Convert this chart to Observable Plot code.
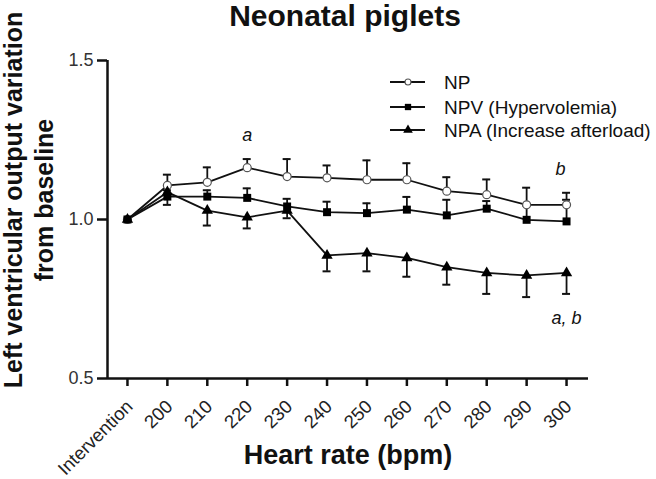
<!DOCTYPE html>
<html><head><meta charset="utf-8">
<script src="https://cdn.jsdelivr.net/npm/d3@7"></script>
<script src="https://cdn.jsdelivr.net/npm/@observablehq/plot@0.6"></script>
<style>
body{margin:0;background:#fff;}
#chart{width:656px;height:479px;}
svg{font-family:"Liberation Sans",Arial,sans-serif;}
</style></head>
<body><div id="chart"></div>
<script>
const labels = ["Intervention","200","210","220","230","240","250","260","270","280","290","300"];
const npVals  = [1.0, 1.107, 1.117, 1.163, 1.135, 1.131, 1.125, 1.125, 1.089, 1.078, 1.046, 1.046];
const npSE    = [0, 0.034, 0.047, 0.027, 0.055, 0.039, 0.061, 0.052, 0.044, 0.048, 0.054, 0.038];
const npvVals = [1.0, 1.072, 1.072, 1.068, 1.041, 1.023, 1.020, 1.031, 1.013, 1.034, 0.999, 0.994];
const npvSE   = [0, 0.02, 0.02, 0.03, 0.024, 0.033, 0.031, 0.04, 0.049, 0.024, 0.045, 0.068];
const npaVals = [1.0, 1.086, 1.028, 1.007, 1.028, 0.887, 0.894, 0.879, 0.850, 0.832, 0.824, 0.832];
const npaSE   = [0, 0.04, 0.047, 0.035, 0.024, 0.05, 0.057, 0.059, 0.055, 0.066, 0.068, 0.066];
const seriesNames = ["NP","NPV (Hypervolemia)","NPA (Increase afterload)"];
const yTicks = [0.5, 1.0, 1.5];
const annotations = [
  {x: 3, y: 1.266, text: "a"},
  {x: 10.85, y: 1.157, text: "b"},
  {x: 11.0, y: 0.689, text: "a, b"}
];

const build = (vals, se, dir, key) => vals.map((v, i) => ({i, v, lo: v, hi: v + dir * se[i], se: se[i], key}));
const np = build(npVals, npSE, 1, "NP");
const npv = build(npvVals, npvSE, 1, "NPV");
const npa = build(npaVals, npaSE, -1, "NPA");
const all = [...np, ...npv, ...npa];
const withErr = all.filter(d => d.se > 0);
const capW = 0.1;
const lineColor = "#111";
const idx = d3.range(labels.length);

const plot = Plot.plot({
  width: 656, height: 479,
  marginLeft: 107, marginRight: 68, marginTop: 60, marginBottom: 101,
  style: {fontFamily: '"Liberation Sans",Arial,sans-serif', background: "#fff"},
  x: {type: "linear", domain: [-0.5, 11.55]},
  y: {domain: [0.5, 1.5]},
  marks: [
    Plot.axisX({ticks: idx, tickFormat: () => "", tickSize: 8, stroke: lineColor, strokeWidth: 2.5, label: null}),
    Plot.text(idx, {x: d => d, y: () => yTicks[0], text: d => labels[d], rotate: -45, textAnchor: "end",
      lineAnchor: "top", dx: -3, dy: 20, fontSize: 18.5, fill: "#222"}),
    Plot.axisY({ticks: yTicks, tickFormat: d3.format(".1f"), tickSize: 10, fontSize: 18, fill: "#333",
      stroke: lineColor, strokeWidth: 2.5, tickPadding: 4, label: null}),
    Plot.ruleY([0.5], {stroke: lineColor, strokeWidth: 2.5}),
    Plot.ruleX([-0.5], {x: d => d, stroke: lineColor, strokeWidth: 2.5}),
    Plot.line(np, {x: "i", y: "v", stroke: lineColor, strokeWidth: 1.8}),
    Plot.line(npv, {x: "i", y: "v", stroke: lineColor, strokeWidth: 1.8}),
    Plot.line(npa, {x: "i", y: "v", stroke: lineColor, strokeWidth: 1.8}),
    Plot.ruleX(withErr, {x: "i", y1: "lo", y2: "hi", stroke: lineColor, strokeWidth: 1.8}),
    Plot.ruleY(withErr, {y: "hi", x1: d => d.i - capW, x2: d => d.i + capW, stroke: lineColor, strokeWidth: 2}),
    Plot.dot(np, {x: "i", y: "v", symbol: "circle", r: 4, fill: "#fff", stroke: "#555", strokeWidth: 1.2}),
    Plot.dot(npv, {x: "i", y: "v", symbol: "square", r: 4.5, fill: "#000"}),
    Plot.dot(npa, {x: "i", y: "v", symbol: "triangle", r: 4.2, fill: "#000"}),
    Plot.text(annotations, {x: "x", y: "y", text: "text", fontSize: 18, fontStyle: "italic", fill: "#111"})
  ]
});

const svg = d3.select(plot);
svg.append("text").attr("x", 345).attr("y", 26).attr("text-anchor", "middle")
  .attr("font-size", 30).attr("font-weight", "bold").attr("fill", "#111").text("Neonatal piglets");
svg.append("text").attr("x", 348).attr("y", 464).attr("text-anchor", "middle")
  .attr("font-size", 27).attr("font-weight", "bold").attr("fill", "#111").text("Heart rate (bpm)");
const yl = svg.append("text").attr("transform", "translate(0,200) rotate(-90)").attr("text-anchor", "middle")
  .attr("font-size", 25).attr("font-weight", "bold").attr("fill", "#111");
yl.append("tspan").attr("x", 0).attr("y", 22).text("Left ventricular output variation");
yl.append("tspan").attr("x", 0).attr("y", 53).text("from baseline");

const legY = [82, 107, 130];
const syms = [d3.symbolCircle, d3.symbolSquare, d3.symbolTriangle];
seriesNames.forEach((name, k) => {
  const g = svg.append("g").attr("transform", `translate(0,${legY[k]})`);
  g.append("line").attr("x1", 390).attr("x2", 425).attr("y1", 0).attr("y2", 0).attr("stroke", lineColor).attr("stroke-width", 1.8);
  g.append("path").attr("transform", "translate(408,0)").attr("d", d3.symbol(syms[k], k === 0 ? 28 : 40)())
    .attr("fill", k === 0 ? "#fff" : "#000").attr("stroke", k === 0 ? "#555" : "none").attr("stroke-width", 1.1);
  g.append("text").attr("x", 444).attr("y", 7).attr("text-anchor", "start")
    .attr("font-size", 19).attr("fill", "#111").text(name);
});

document.getElementById("chart").appendChild(plot);
</script></body></html>
